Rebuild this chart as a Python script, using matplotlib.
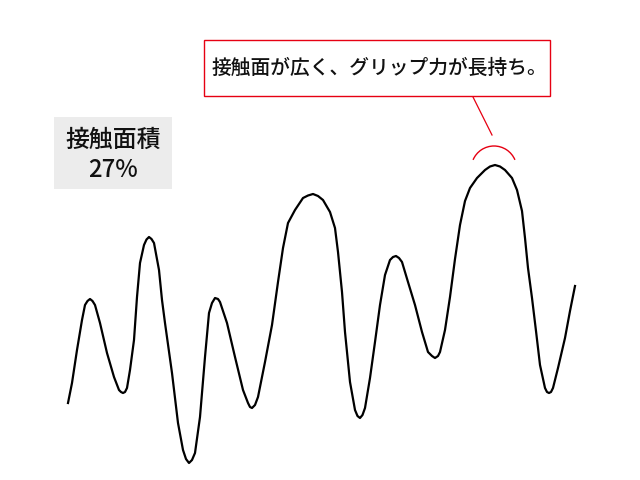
import matplotlib
matplotlib.use('Agg')
from matplotlib import pyplot as plt
from matplotlib.patches import Rectangle, Arc

plt.rcParams['font.family'] = ['Noto Sans CJK JP', 'DejaVu Sans']

# curve points (pixel coords, y downwards)
curva_x = [68, 72, 77, 82, 85, 87.5, 90, 92.5, 95, 100, 107, 114, 119, 121, 123, 125, 127,
           130, 134, 137, 140, 144, 146.5, 149, 151.5, 154, 159, 162, 165, 172, 178, 183,
           186, 189, 192, 195, 200, 205, 209, 212, 215, 218, 220, 227, 235, 243, 248, 250,
           252, 255, 258, 265, 272, 278, 283, 288, 295, 303, 308, 313, 318, 323, 330, 335,
           338, 342, 345, 350, 355, 357.5, 360, 362.5, 365, 370, 375, 380, 385, 390, 393,
           396, 399, 402, 408, 415, 422, 428, 432, 435, 438, 440, 445, 450, 455, 460, 465,
           470, 477, 485, 490, 495, 500, 505, 512, 517, 522, 525, 528, 532, 536, 540, 545,
           547, 549, 551, 553, 558, 565, 570, 575]
curva_y = [403, 383, 350, 320, 305, 301, 299, 301, 305, 323, 353, 377, 390, 392, 393, 392, 388,
           370, 340, 297, 263, 245, 239.5, 237, 239, 243, 270, 300, 323, 373, 423, 450,
           459, 463, 460, 453, 417, 357, 313, 303, 298, 299, 302, 323, 357, 390, 403, 407,
           408, 405, 397, 362, 325, 282, 248, 223, 210, 198, 195.5, 194, 196, 200, 212, 228,
           252, 292, 332, 382, 410, 416, 418, 415, 408, 378, 342, 305, 275, 260, 257,
           256, 258, 262, 282, 305, 332, 352, 356, 358, 356, 352, 330, 297, 259, 225, 201,
           188, 178, 170, 166.5, 165, 166.5, 170, 178, 190, 211, 238, 268, 298, 331, 365, 388,
           392, 393, 392, 388, 368, 338, 311, 286]

etiqueta = '接触面積\n27%'
nota = '接触面が広く、グリップ力が長持ち。'
rojo = '#e60012'

fig = plt.figure(figsize=(6.4, 4.8), dpi=100)
ax = fig.add_axes([0, 0, 1, 1])
ax.set_xlim(0, 640)
ax.set_ylim(480, 0)
ax.axis('off')

ax.plot(curva_x, curva_y, color='black', lw=1.6, solid_joinstyle='round')

# caja gris con el porcentaje
ax.add_patch(Rectangle((54, 117), 118, 72, facecolor='#ececec', edgecolor='none'))
ax.text(113, 155, etiqueta, ha='center', va='center', fontsize=17.2, fontweight='medium',
        linespacing=1.2, color='#111111')

# caja roja con la nota
ax.add_patch(Rectangle((204, 40), 346, 56, facecolor='white', edgecolor=rojo, lw=1))
ax.text(379, 68, nota, ha='center', va='center', fontsize=14.2, fontweight='medium',
        color='#111111')
ax.plot([473, 492], [97, 135], color=rojo, lw=0.9)
ax.add_patch(Arc((494, 168.75), 45.5, 45.5, theta1=203, theta2=337, color=rojo, lw=1))

fig.savefig('out.png', dpi=100)
